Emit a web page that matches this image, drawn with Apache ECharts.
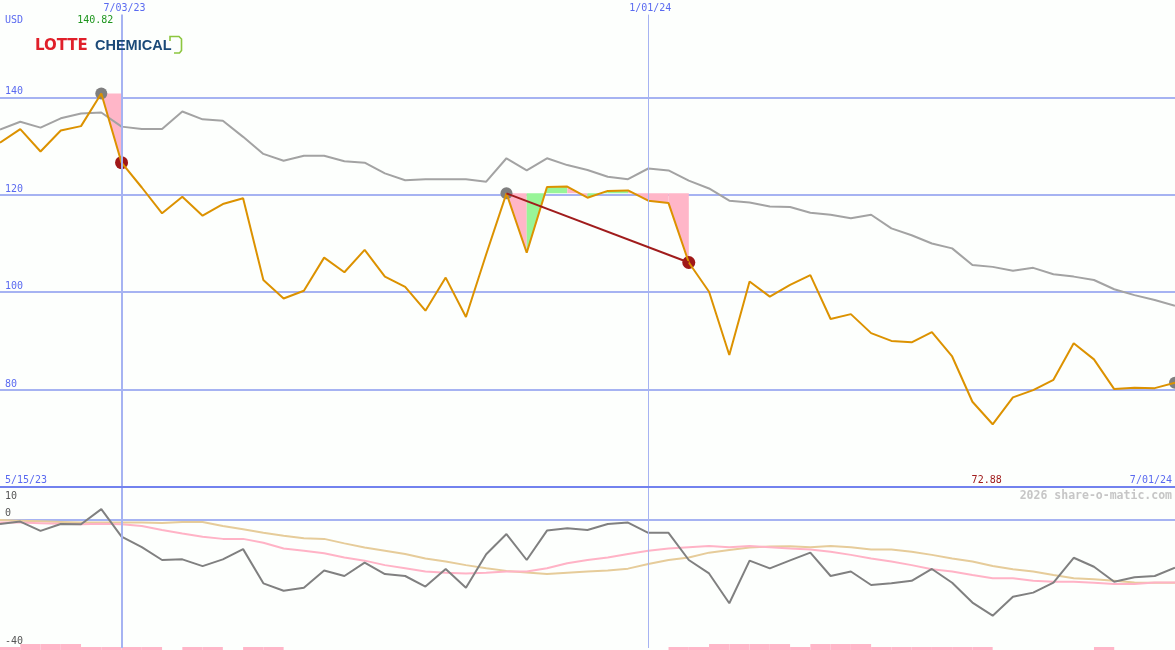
<!DOCTYPE html>
<html><head><meta charset="utf-8">
<script src="https://cdn.jsdelivr.net/npm/echarts@6/dist/echarts.min.js"></script>
<style>html,body{margin:0;padding:0;background:#fdfffd}#c{width:1175px;height:650px}</style>
</head><body><div id="c"></div>
<script>
const dates = ['5/22/23','5/29/23','6/05/23','6/12/23','6/19/23','6/26/23','7/03/23','7/10/23','7/17/23','7/24/23',
'7/31/23','8/07/23','8/14/23','8/21/23','8/28/23','9/04/23','9/11/23','9/18/23','9/25/23','10/02/23',
'10/09/23','10/16/23','10/23/23','10/30/23','11/06/23','11/13/23','11/20/23','11/27/23','12/04/23','12/11/23',
'12/18/23','12/25/23','1/01/24','1/08/24','1/15/24','1/22/24','1/29/24','2/05/24','2/12/24','2/19/24',
'2/26/24','3/04/24','3/11/24','3/18/24','3/25/24','4/01/24','4/08/24','4/15/24','4/22/24','4/29/24',
'5/06/24','5/13/24','5/20/24','5/27/24','6/03/24','6/10/24','6/17/24','6/24/24','7/01/24'];

const price = [130.7,133.5,128.9,133.2,134.1,140.82,126.6,121.5,116.2,119.6,
115.7,118.1,119.3,102.5,98.7,100.3,107.1,104.1,108.7,103.2,
101.1,96.2,103.0,94.9,107.8,120.3,108.1,121.6,121.7,119.4,
120.8,120.9,118.8,118.3,106.1,100.1,87.1,102.2,99.1,101.5,
103.5,94.5,95.5,91.6,90.0,89.7,91.8,86.8,77.5,72.88,
78.4,79.9,82.0,89.5,86.2,80.1,80.4,80.3,81.4];

const average = [133.4,135.0,133.8,135.7,136.7,136.9,134.0,133.5,133.5,137.1,
135.5,135.2,131.9,128.4,127.0,128.0,128.0,126.9,126.6,124.4,
123.0,123.2,123.2,123.2,122.7,127.5,125.0,127.5,126.1,125.1,
123.7,123.2,125.4,125.0,122.9,121.3,118.8,118.4,117.6,117.5,
116.3,115.9,115.2,115.9,113.1,111.7,110.0,109.0,105.6,105.2,
104.4,105.0,103.7,103.2,102.5,100.6,99.4,98.4,97.2];

const oscillator = [-1.25,-0.5,-3.4,-1.25,-1.35,3.4,-5.2,-8.5,-12.5,-12.3,
-14.4,-12.3,-9.1,-19.8,-22.1,-21.2,-15.8,-17.5,-13.3,-16.9,
-17.5,-20.8,-15.3,-21.2,-10.7,-4.4,-12.5,-3.3,-2.6,-3.1,
-1.25,-0.8,-4.0,-4.0,-12.5,-16.7,-26.0,-12.7,-15.1,-12.6,
-10.2,-17.5,-16.1,-20.3,-19.8,-19.0,-15.3,-19.6,-25.8,-29.9,
-24.0,-22.7,-19.6,-11.8,-14.6,-19.3,-17.9,-17.5,-14.9];

const oscFast = [-0.8,-0.8,-1.0,-1.2,-1.3,-1.2,-1.3,-1.9,-3.1,-4.2,
-5.2,-5.9,-5.9,-7.1,-8.9,-9.6,-10.4,-11.7,-12.7,-14.1,
-15.1,-16.1,-16.5,-16.7,-16.5,-16.1,-16.1,-15.1,-13.5,-12.5,
-11.7,-10.6,-9.6,-8.9,-8.5,-8.1,-8.5,-8.1,-8.5,-8.9,
-9.2,-9.9,-10.9,-12.0,-13.0,-14.1,-15.4,-16.1,-17.2,-18.2,
-18.2,-19.0,-19.3,-19.3,-19.6,-20.0,-20.0,-19.5,-19.5];

const oscSlow = [0,-0.2,-0.4,-0.6,-0.8,-0.8,-0.8,-0.8,-0.9,-0.6,
-0.6,-1.9,-2.9,-4.0,-4.9,-5.7,-5.9,-7.3,-8.6,-9.6,
-10.6,-12.0,-13.0,-14.1,-15.1,-15.9,-16.4,-16.9,-16.5,-16.1,
-15.8,-15.2,-13.75,-12.5,-11.7,-10.2,-9.4,-8.6,-8.3,-8.2,
-8.5,-8.1,-8.5,-9.2,-9.2,-9.9,-10.9,-12.0,-13.0,-14.4,
-15.4,-16.1,-17.2,-18.2,-18.5,-19.0,-19.5,-19.6,-19.6];

// weekly signal bars (one per interval between points)
const signalBars = [1,2,2,2,1,1,1,1,0,1,
1,0,1,1,0,0,0,0,0,0,
0,0,0,0,0,0,0,0,0,0,
0,0,0,1,1,2,2,2,2,1,
2,2,2,1,1,1,1,1,1,0,
0,0,0,0,1,0,0,0];

// drawdown episodes: [peak index, trough index]
const drawdowns = [[5,6],[25,34]];
const markedDates = ['7/03/23','1/01/24'];
const yTicksMain = [80,100,120,140];

const BLUE = '#5a6af0', GRID = '#a6b3f2', MONO = 'DejaVu Sans Mono';

const fillData = [];
drawdowns.forEach(([a,b]) => {
  const level = price[a];
  for (let i = a; i < b; i++) fillData.push([i, level, price[i], price[i+1], price[i+1] >= price[i] ? 1 : 0]);
});

const chart = echarts.init(document.getElementById('c'), null, {renderer:'canvas'});
const hiddenX = (gi, data, gap) => ({type:'category', gridIndex:gi, data:data, boundaryGap:gap,
  axisLine:{show:false}, axisTick:{show:false}, axisLabel:{show:false}, splitLine:{show:false}});

const option = {
  animation:false,
  backgroundColor:'#fdfffd',
  grid:[
    {left:0,right:0,top:0,height:487,outerBoundsMode:'none'},
    {left:0,right:0,top:488,height:160,outerBoundsMode:'none'},
    {left:0,right:0,top:644,height:6,outerBoundsMode:'none'}
  ],
  xAxis:[hiddenX(0,dates,false), hiddenX(1,dates,false), hiddenX(2,dates.slice(0,58),true)],
  yAxis:[
    {type:'value',gridIndex:0,min:60,max:160,interval:20,
     axisLine:{show:false},axisTick:{show:false},
     splitLine:{show:true,lineStyle:{width:2,color:['transparent',GRID,GRID,GRID,GRID,'transparent']}},
     axisLabel:{inside:true,margin:5,color:BLUE,fontFamily:MONO,fontSize:10,verticalAlign:'bottom',lineHeight:11,
       formatter:v=>yTicksMain.includes(v)?String(v):''}},
    {type:'value',gridIndex:1,min:-40,max:10,interval:10,
     axisLine:{show:false},axisTick:{show:false},
     splitLine:{show:true,lineStyle:{width:2,color:['transparent','transparent','transparent','transparent',GRID,'transparent']}},
     axisLabel:{inside:true,margin:5,color:'#555',fontFamily:MONO,fontSize:10,verticalAlign:'bottom',lineHeight:13,
       formatter:v=>(v===0||v===-40)?String(v):''}},
    {type:'value',gridIndex:1,min:-40,max:10,interval:10,position:'left',
     axisLine:{show:false},axisTick:{show:false},splitLine:{show:false},
     axisLabel:{inside:true,margin:5,color:'#555',fontFamily:MONO,fontSize:10,verticalAlign:'top',lineHeight:16,
       formatter:v=>v===10?String(v):''}},
    {type:'value',gridIndex:2,min:0,max:2,show:false}
  ],
  series:[
    {type:'custom',xAxisIndex:0,yAxisIndex:0,z:1,clip:false,silent:true,data:fillData,
     encode:{x:0,y:[1,2,3]},
     renderItem:function(params,api){
       const i=api.value(0),L=api.value(1),a=api.value(2),b=api.value(3),up=api.value(4);
       const pts=[api.coord([i,L]),api.coord([i,a]),api.coord([i+1,b]),api.coord([i+1,L])];
       return {type:'polygon',shape:{points:pts},style:{fill:up>0?'#98f598':'#ffb6c8'}};
     }},
    {type:'line',xAxisIndex:0,yAxisIndex:0,data:average,symbol:'none',z:2,
     lineStyle:{color:'#a3a3a3',width:2}},
    {type:'scatter',xAxisIndex:0,yAxisIndex:0,z:3,symbolSize:12,itemStyle:{color:'#7f7f7f',opacity:1},
     data:[[drawdowns[0][0],price[drawdowns[0][0]]],[drawdowns[1][0],price[drawdowns[1][0]]],[price.length-1,price[price.length-1]]]},
    {type:'scatter',xAxisIndex:0,yAxisIndex:0,z:3,symbolSize:13,itemStyle:{color:'#a01818',opacity:1},
     data:drawdowns.map(d=>[d[1],price[d[1]]])},
    {type:'line',xAxisIndex:0,yAxisIndex:0,data:price,symbol:'none',z:4,
     lineStyle:{color:'#dc9200',width:2},
     markLine:{silent:true,symbol:'none',label:{show:false},animation:false,
       data:[
         [{coord:[markedDates[0],157],lineStyle:{color:GRID,width:2,type:'solid'}},{coord:[markedDates[0],60]}],
         [{coord:[markedDates[1],157],lineStyle:{color:GRID,width:1,type:'solid'}},{coord:[markedDates[1],60]}]
       ]}},
    {type:'line',xAxisIndex:0,yAxisIndex:0,z:5,symbol:'none',
     data:[[drawdowns[1][0],price[drawdowns[1][0]]],[drawdowns[1][1],price[drawdowns[1][1]]]],
     lineStyle:{color:'#a01c1c',width:2}},
    {type:'bar',xAxisIndex:2,yAxisIndex:3,data:signalBars,barWidth:'100%',barCategoryGap:0,
     itemStyle:{color:'#ffb6c8'},silent:true},
    {type:'line',xAxisIndex:1,yAxisIndex:1,data:oscSlow,symbol:'none',z:2,lineStyle:{color:'#e6cc9a',width:2}},
    {type:'line',xAxisIndex:1,yAxisIndex:1,data:oscFast,symbol:'none',z:3,lineStyle:{color:'#ffb3c6',width:2}},
    {type:'line',xAxisIndex:1,yAxisIndex:1,data:oscillator,symbol:'none',z:4,lineStyle:{color:'#808080',width:2},
     markLine:{silent:true,symbol:'none',label:{show:false},animation:false,
       data:[{xAxis:markedDates[0],lineStyle:{color:GRID,width:2,type:'solid'}},
             {xAxis:markedDates[1],lineStyle:{color:GRID,width:1,type:'solid'}}]}}
  ]
};
chart.setOption(option);

const px = (i,v) => chart.convertToPixel({xAxisIndex:0,yAxisIndex:0},[i,v]);
const maxIdx = price.indexOf(Math.max(...price));
const minIdx = price.indexOf(Math.min(...price));
const txt = (text,x,y,color,align,extra) => Object.assign({type:'text',x:x,y:y,silent:true,z:100,
  style:{text:text,fill:color,font:'10px "DejaVu Sans Mono"',textAlign:align,textVerticalAlign:'middle'}},extra||{});
const g = [
  {type:'line',shape:{x1:0,y1:487,x2:1175,y2:487},style:{stroke:'#7282ee',lineWidth:2},z:50},
  txt('USD',5,20,BLUE,'left'),
  txt(price[maxIdx].toFixed(2),px(maxIdx,0)[0]-6,20,'#1e961e','center'),
  txt(markedDates[0],px(dates.indexOf(markedDates[0]),0)[0]+3,8,BLUE,'center'),
  txt(markedDates[1],px(dates.indexOf(markedDates[1]),0)[0]+2,8,BLUE,'center'),
  txt('5/15/23',5,480,BLUE,'left'),
  txt(price[minIdx].toFixed(2),px(minIdx,0)[0]-6,480,'#a01c1c','center'),
  txt(dates[dates.length-1],1172,480,BLUE,'right'),
  {type:'text',x:1172,y:496,z:100,silent:true,style:{text:'2026 share-o-matic.com',fill:'#c6c6c6',
    font:'bold 11.5px "DejaVu Sans Mono"',textAlign:'right',textVerticalAlign:'middle'}},
  {type:'text',x:35,y:46,z:100,silent:true,style:{text:'LOTTE',fill:'#e0202a',
    font:'bold 15px "DejaVu Sans"',textAlign:'left',textVerticalAlign:'middle'}},
  {type:'text',x:95,y:46,z:100,silent:true,style:{text:'CHEMICAL',fill:'#1b4a78',
    font:'bold 14.5px "Liberation Sans"',textAlign:'left',textVerticalAlign:'middle'}},
  {type:'polyline',z:100,silent:true,shape:{points:[[170,41],[170,36.5],[179,36.5],[181.5,39],[181.5,50.5],[179.5,53],[174,53]]},
    style:{stroke:'#8cc63f',lineWidth:1.6,fill:null}}
];
chart.setOption({graphic:g});
</script>
</body></html>
